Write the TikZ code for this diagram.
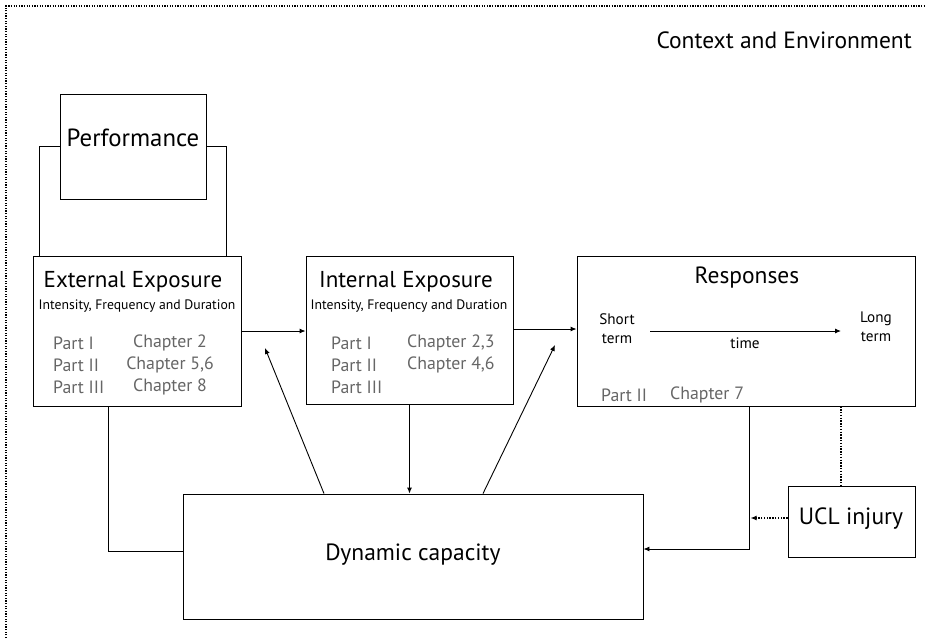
\documentclass[tikz,border=0pt]{standalone}
\usepackage{fontspec}
\setmainfont{PT Sans}
\usetikzlibrary{arrows.meta,calc}
\definecolor{partgray}{HTML}{666666}
\begin{document}
\begin{tikzpicture}[x=1pt,y=-1pt,
  box/.style={draw,line width=0.9pt,minimum width=#1,inner sep=0pt},
  big/.style={font=\fontsize{23.5}{28}\selectfont,inner sep=0pt},
  sub/.style={font=\fontsize{13.7}{16}\selectfont,inner sep=0pt},
  part/.style={font=\fontsize{17.8}{21}\selectfont,text=partgray,inner sep=0pt},
  small/.style={font=\fontsize{15.2}{19}\selectfont,inner sep=0pt,align=center},
  conn/.style={line width=0.9pt},
  dotconn/.style={line width=1.1pt,dash pattern=on 1.4pt off 1.4pt},
  arr/.style={line width=0.9pt,-{Latex[length=6pt,width=5pt]}},
  border/.style={line width=1.2pt,dash pattern=on 1.3pt off 1.3pt}]
\useasboundingbox (0,0) rectangle (925,638);
\fill[white] (0,0) rectangle (925,638);
\draw[border] (6,638) -- (6,6) -- (925,6);
\node[big,anchor=east] (ctx) at (912,40) {Context and Environment};

% boxes
\node[box=146pt,minimum height=105pt] (perf) at (133,146.5) {};
\node[box=208pt,minimum height=150pt] (ext) at (137,331) {};
\node[box=207pt,minimum height=148pt] (int) at (409.5,330) {};
\node[box=338pt,minimum height=150pt] (resp) at (746,331) {};
\node[box=460pt,minimum height=125pt] (dyn) at (413,556.5) {};
\node[box=127pt,minimum height=71pt] (ucl) at (851.5,521.5) {};

% texts
\node[big,font=\fontsize{24.8}{29}\selectfont] (perft) at (133,138) {Performance};
\node[big,font=\fontsize{23}{28}\selectfont] (extt) at (133,282) {External Exposure};
\node[sub] (exts) at (137,306) {Intensity, Frequency and Duration};
\node[part,anchor=west] (ep1) at (53,343) {Part I};
\node[part,anchor=west] (ep2) at (53,365) {Part II};
\node[part,anchor=west] (ep3) at (53,387) {Part III};
\node[part] (ec1) at (170,343) {Chapter 2};
\node[part] (ec2) at (170,365) {Chapter 5,6};
\node[part] (ec3) at (170,387) {Chapter 8};

\node[big,font=\fontsize{23}{28}\selectfont] (intt) at (406,282) {Internal Exposure};
\node[sub] (ints) at (409,306) {Intensity, Frequency and Duration};
\node[part,anchor=west] (ip1) at (331,343) {Part I};
\node[part,anchor=west] (ip2) at (331,365) {Part II};
\node[part,anchor=west] (ip3) at (331,387) {Part III};
\node[part,anchor=west] (ic1) at (407,343) {Chapter 2,3};
\node[part,anchor=west] (ic2) at (407,365) {Chapter 4,6};

\node[big] (respt) at (747,278) {Responses};
\node[small] (short) at (617,328.5) {Short\\term};
\node[small] (long) at (876,326.5) {Long\\term};
\node[small] (time) at (745,343) {time};
\node[part,anchor=west] (rp) at (601,395) {Part II};
\node[part,anchor=west] (rc) at (670,395) {Chapter 7};

\node[big] (dynt) at (413,555) {Dynamic capacity};
\node[big] (uclt) at (851,519) {UCL injury};

% connectors
\coordinate (ts) at (650,331);
\coordinate (te) at (841,331);
\draw[arr] (ts) -- (te);

\draw[conn] (perf.west) -| ([xshift=7]ext.north west);
\draw[conn] (perf.east) -| ([xshift=-15]ext.north east);

\draw[arr] (ext.east) -- (ext.east -| int.west);
\draw[arr] ([yshift=1]int.east) -- ([yshift=1]int.east -| resp.west);

\draw[conn] ([xshift=-29]ext.south) |- ([yshift=5.5]dyn.west);
\draw[arr] (int.south) -- (int.south |- dyn.north);

\coordinate (tipL) at (265,348);
\coordinate (tipR) at (555,345);
\draw[arr] ([xshift=-89]dyn.north) -- (tipL);
\draw[arr] ([xshift=70]dyn.north) -- (tipR);

\draw[arr] ([xshift=3]resp.south) |- ([yshift=7.5]dyn.east);
\draw[dotconn] ([xshift=95]resp.south) -- ([xshift=95]resp.south |- ucl.north);
\draw[arr,dotconn] ([yshift=3.5]ucl.west) -- ++(-37,0);
\end{tikzpicture}
\end{document}
